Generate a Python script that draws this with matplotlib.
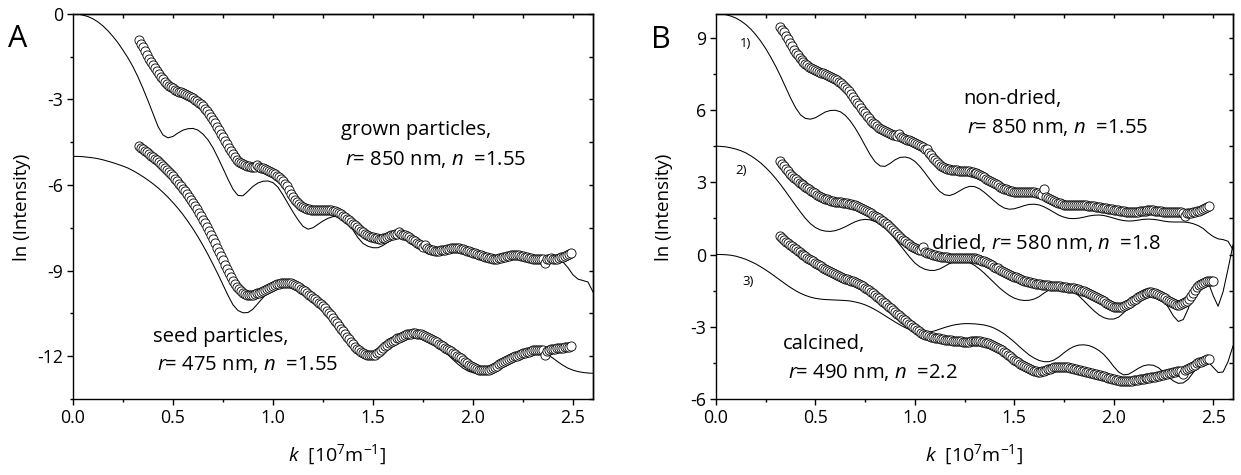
import numpy as np
import matplotlib
matplotlib.use("Agg")
import matplotlib.pyplot as plt

FONT = "Open Sans"
plt.rcParams["font.family"] = [FONT, "DejaVu Sans"]
plt.rcParams["mathtext.fontset"] = "custom"
plt.rcParams["mathtext.rm"] = FONT
plt.rcParams["mathtext.it"] = FONT + ":italic"
plt.rcParams["mathtext.bf"] = FONT + ":bold"

# ---------------- Panel A ----------------
# theory curves sampled 0 .. 2.6 (step 0.025)
theory_A_grown = [
    0.00, -0.01, -0.05, -0.10, -0.18, -0.29, -0.43, -0.60, -0.80, -1.02,
    -1.28, -1.55, -1.86, -2.22, -2.62, -3.05, -3.50, -3.95, -4.25, -4.35,
    -4.30, -4.18, -4.08, -4.03, -4.02, -4.08, -4.22, -4.42, -4.70, -5.05,
    -5.42, -5.80, -6.15, -6.37, -6.38, -6.22, -6.05, -5.93, -5.87, -5.86,
    -5.92, -6.08, -6.35, -6.65, -6.95, -7.22, -7.45, -7.55, -7.50, -7.38,
    -7.26, -7.17, -7.11, -7.10, -7.18, -7.35, -7.58, -7.85, -8.05, -8.15,
    -8.20, -8.20, -8.12, -8.00, -7.90, -7.83, -7.80, -7.85, -7.98, -8.15,
    -8.30, -8.42, -8.45, -8.42, -8.35, -8.27, -8.21, -8.20, -8.24, -8.33,
    -8.43, -8.52, -8.58, -8.60, -8.57, -8.50, -8.44, -8.40, -8.40, -8.44,
    -8.50, -8.56, -8.60, -8.60, -8.58, -8.56, -8.56, -8.60, -8.70, -8.90,
    -9.15, -9.30, -9.35, -9.40, -9.75]
theory_A_seed = [
    -5.00, -5.00, -5.01, -5.03, -5.05, -5.08, -5.12, -5.17, -5.22, -5.28,
    -5.34, -5.41, -5.50, -5.60, -5.71, -5.83, -5.96, -6.10, -6.26, -6.43,
    -6.62, -6.82, -7.04, -7.28, -7.54, -7.82, -8.12, -8.44, -8.78, -9.13,
    -9.50, -9.87, -10.20, -10.40, -10.48, -10.47, -10.35, -10.15, -9.95, -9.75,
    -9.60, -9.50, -9.45, -9.44, -9.47, -9.55, -9.66, -9.80, -9.97, -10.15,
    -10.35, -10.56, -10.78, -11.00, -11.25, -11.50, -11.72, -11.90, -12.02, -12.08,
    -12.08, -12.00, -11.85, -11.68, -11.52, -11.40, -11.30, -11.24, -11.22, -11.23,
    -11.28, -11.37, -11.48, -11.62, -11.78, -11.95, -12.12, -12.28, -12.42, -12.52,
    -12.58, -12.60, -12.58, -12.52, -12.42, -12.30, -12.18, -12.06, -11.96, -11.88,
    -11.83, -11.80, -11.79, -11.80, -11.85, -11.95, -12.07, -12.20, -12.32, -12.42,
    -12.49, -12.54, -12.57, -12.59, -12.60]

# measured data, k from 0.33 (step 0.01)
data_A_grown = [
    -0.92, -1.05, -1.17, -1.30, -1.43, -1.57, -1.70, -1.81, -1.92, -2.02,
    -2.12, -2.21, -2.30, -2.38, -2.46, -2.52, -2.57, -2.62, -2.66, -2.70,
    -2.73, -2.76, -2.79, -2.82, -2.85, -2.89, -2.93, -2.97, -3.02, -3.07,
    -3.12, -3.18, -3.25, -3.33, -3.42, -3.52, -3.62, -3.73, -3.84, -3.96,
    -4.08, -4.20, -4.33, -4.45, -4.58, -4.70, -4.82, -4.93, -5.03, -5.11,
    -5.18, -5.24, -5.28, -5.31, -5.33, -5.35, -5.37, -5.38, -5.38, -5.30,
    -5.38, -5.40, -5.42, -5.44, -5.47, -5.51, -5.55, -5.58, -5.62, -5.67,
    -5.72, -5.78, -5.85, -5.95, -6.05, -6.17, -6.30, -6.41, -6.52, -6.61,
    -6.68, -6.74, -6.78, -6.82, -6.84, -6.86, -6.87, -6.88, -6.88, -6.88,
    -6.88, -6.87, -6.87, -6.87, -6.87, -6.87, -6.88, -6.90, -6.92, -6.95,
    -6.99, -7.03, -7.08, -7.13, -7.19, -7.24, -7.30, -7.36, -7.42, -7.49,
    -7.55, -7.61, -7.66, -7.71, -7.75, -7.79, -7.82, -7.84, -7.86, -7.87,
    -7.88, -7.88, -7.87, -7.85, -7.82, -7.79, -7.76, -7.74, -7.72, -7.71,
    -7.66, -7.72, -7.74, -7.77, -7.80, -7.84, -7.88, -7.93, -7.98, -8.03,
    -8.08, -8.12, -8.16, -8.10, -8.22, -8.25, -8.27, -8.29, -8.30, -8.30,
    -8.30, -8.29, -8.28, -8.27, -8.25, -8.24, -8.22, -8.21, -8.21, -8.21,
    -8.22, -8.23, -8.25, -8.27, -8.30, -8.32, -8.35, -8.37, -8.40, -8.42,
    -8.45, -8.47, -8.50, -8.52, -8.54, -8.56, -8.57, -8.58, -8.58, -8.58,
    -8.57, -8.55, -8.54, -8.52, -8.50, -8.48, -8.47, -8.46, -8.46, -8.46,
    -8.47, -8.48, -8.50, -8.52, -8.54, -8.55, -8.57, -8.58, -8.59, -8.59,
    -8.59, -8.60, -8.61, -8.75, -8.60, -8.58, -8.57, -8.58, -8.59, -8.58,
    -8.56, -8.54, -8.52, -8.49, -8.46, -8.43, -8.39]
data_A_seed = [
    -4.64, -4.70, -4.75, -4.81, -4.86, -4.92, -4.97, -5.02, -5.08, -5.14,
    -5.20, -5.26, -5.33, -5.40, -5.47, -5.54, -5.62, -5.70, -5.78, -5.86,
    -5.95, -6.04, -6.13, -6.22, -6.32, -6.42, -6.53, -6.64, -6.75, -6.86,
    -6.98, -7.10, -7.22, -7.35, -7.48, -7.62, -7.76, -7.90, -8.05, -8.20,
    -8.35, -8.50, -8.64, -8.79, -8.94, -9.08, -9.22, -9.35, -9.47, -9.57,
    -9.66, -9.73, -9.78, -9.82, -9.84, -9.86, -9.86, -9.85, -9.83, -9.80,
    -9.77, -9.74, -9.70, -9.67, -9.63, -9.60, -9.56, -9.53, -9.50, -9.48,
    -9.46, -9.44, -9.43, -9.42, -9.42, -9.43, -9.44, -9.47, -9.50, -9.54,
    -9.58, -9.63, -9.68, -9.73, -9.79, -9.84, -9.90, -9.95, -10.00, -10.06,
    -10.12, -10.18, -10.25, -10.32, -10.40, -10.48, -10.57, -10.66, -10.75, -10.84,
    -10.94, -11.03, -11.13, -11.22, -11.32, -11.41, -11.50, -11.59, -11.67, -11.74,
    -11.80, -11.85, -11.90, -11.93, -11.95, -11.96, -11.97, -11.97, -11.95, -11.90,
    -11.85, -11.78, -11.72, -11.66, -11.60, -11.55, -11.50, -11.46, -11.42, -11.38,
    -11.35, -11.32, -11.29, -11.26, -11.24, -11.22, -11.21, -11.20, -11.20, -11.21,
    -11.22, -11.24, -11.27, -11.30, -11.33, -11.36, -11.40, -11.44, -11.48, -11.52,
    -11.56, -11.60, -11.65, -11.70, -11.74, -11.79, -11.83, -11.88, -11.93, -11.98,
    -12.03, -12.08, -12.14, -12.19, -12.25, -12.30, -12.35, -12.39, -12.43, -12.46,
    -12.48, -12.49, -12.50, -12.50, -12.49, -12.47, -12.44, -12.40, -12.37, -12.33,
    -12.29, -12.25, -12.21, -12.17, -12.14, -12.10, -12.07, -12.04, -12.01, -11.98,
    -11.95, -11.92, -11.90, -11.88, -11.86, -11.84, -11.82, -11.80, -11.79, -11.78,
    -11.78, -11.79, -11.80, -11.95, -11.81, -11.78, -11.76, -11.75, -11.74, -11.73,
    -11.72, -11.71, -11.70, -11.69, -11.68, -11.67, -11.66]

# ---------------- Panel B ----------------
theory_B_nondried = [
    10.00, 9.99, 9.96, 9.90, 9.82, 9.70, 9.55, 9.36, 9.13, 8.86,
    8.55, 8.20, 7.82, 7.40, 6.95, 6.50, 6.10, 5.80, 5.65, 5.62,
    5.68, 5.80, 5.92, 5.98, 5.99, 5.93, 5.78, 5.55, 5.25, 4.90,
    4.52, 4.15, 3.85, 3.68, 3.66, 3.78, 3.93, 4.03, 4.05, 4.00,
    3.87, 3.66, 3.40, 3.12, 2.85, 2.62, 2.48, 2.45, 2.52, 2.64,
    2.76, 2.83, 2.82, 2.73, 2.58, 2.40, 2.22, 2.05, 1.93, 1.88,
    1.90, 1.96, 2.03, 2.08, 2.09, 2.06, 1.98, 1.87, 1.75, 1.63,
    1.55, 1.50, 1.49, 1.51, 1.55, 1.60, 1.63, 1.64, 1.62, 1.57,
    1.51, 1.45, 1.41, 1.39, 1.40, 1.43, 1.46, 1.47, 1.46, 1.43,
    1.39, 1.36, 1.35, 1.35, 1.35, 1.33, 1.28, 1.20, 1.08, 0.90,
    0.75, 0.65, 0.62, 0.55, 0.20]
theory_B_dried = [
    4.50, 4.49, 4.47, 4.43, 4.38, 4.31, 4.22, 4.10, 3.96, 3.80,
    3.61, 3.40, 3.16, 2.90, 2.62, 2.33, 2.04, 1.76, 1.50, 1.28,
    1.12, 1.02, 0.97, 0.96, 0.99, 1.06, 1.15, 1.26, 1.36, 1.43,
    1.46, 1.44, 1.37, 1.26, 1.10, 0.90, 0.66, 0.40, 0.14, -0.12,
    -0.35, -0.51, -0.61, -0.66, -0.66, -0.60, -0.49, -0.37, -0.28, -0.24,
    -0.26, -0.33, -0.45, -0.60, -0.78, -0.98, -1.18, -1.38, -1.55, -1.70,
    -1.81, -1.88, -1.91, -1.90, -1.85, -1.75, -1.60, -1.47, -1.38, -1.34,
    -1.35, -1.42, -1.55, -1.72, -1.92, -2.13, -2.33, -2.50, -2.62, -2.68,
    -2.68, -2.60, -2.42, -2.17, -1.93, -1.75, -1.63, -1.58, -1.60, -1.70,
    -1.90, -2.20, -2.55, -2.78, -2.70, -2.25, -1.55, -1.12, -1.05, -1.15,
    -1.70, -2.15, -1.55, -0.60, 0.40]
theory_B_calcined = [
    0.00, 0.00, -0.01, -0.03, -0.07, -0.13, -0.20, -0.29, -0.39, -0.51,
    -0.64, -0.78, -0.93, -1.08, -1.23, -1.37, -1.50, -1.61, -1.70, -1.77,
    -1.82, -1.85, -1.87, -1.88, -1.89, -1.90, -1.91, -1.93, -1.97, -2.02,
    -2.09, -2.18, -2.29, -2.41, -2.54, -2.67, -2.80, -2.92, -3.03, -3.12,
    -3.19, -3.23, -3.24, -3.22, -3.17, -3.10, -3.03, -2.97, -2.92, -2.89,
    -2.87, -2.87, -2.88, -2.90, -2.93, -2.98, -3.06, -3.17, -3.30, -3.46,
    -3.63, -3.82, -4.00, -4.17, -4.30, -4.40, -4.45, -4.45, -4.38, -4.25,
    -4.08, -3.93, -3.82, -3.76, -3.75, -3.78, -3.86, -3.98, -4.15, -4.38,
    -4.65, -4.88, -5.00, -4.97, -4.85, -4.72, -4.62, -4.58, -4.60, -4.70,
    -4.88, -5.08, -5.25, -5.35, -5.33, -5.18, -4.90, -4.60, -4.42, -4.45,
    -4.68, -4.90, -4.88, -4.45, -3.80]

# measured data, k from 0.32 (step 0.01)
data_B_nondried = [
    9.45, 9.34, 9.22, 9.09, 8.95, 8.80, 8.65, 8.51, 8.38, 8.27,
    8.17, 8.08, 8.00, 7.92, 7.85, 7.79, 7.74, 7.70, 7.66, 7.62,
    7.59, 7.55, 7.52, 7.48, 7.45, 7.42, 7.38, 7.34, 7.29, 7.24,
    7.18, 7.11, 7.04, 6.96, 6.87, 6.77, 6.66, 6.55, 6.43, 6.31,
    6.20, 6.08, 5.97, 5.86, 5.75, 5.65, 5.56, 5.48, 5.40, 5.33,
    5.27, 5.21, 5.16, 5.11, 5.07, 5.03, 5.00, 4.97, 4.95, 4.92,
    5.02, 4.87, 4.84, 4.81, 4.77, 4.74, 4.70, 4.67, 4.63, 4.59,
    4.55, 4.50, 4.45, 4.38, 4.40, 4.21, 4.12, 4.02, 3.93, 3.84,
    3.76, 3.69, 3.64, 3.60, 3.57, 3.55, 3.53, 3.51, 3.50, 3.49,
    3.48, 3.47, 3.47, 3.46, 3.46, 3.45, 3.44, 3.42, 3.40, 3.37,
    3.34, 3.30, 3.25, 3.20, 3.15, 3.10, 3.05, 3.00, 2.96, 2.91,
    2.87, 2.82, 2.78, 2.74, 2.70, 2.67, 2.64, 2.62, 2.60, 2.59,
    2.58, 2.58, 2.58, 2.58, 2.59, 2.60, 2.60, 2.60, 2.59, 2.57,
    2.54, 2.51, 2.47, 2.70, 2.38, 2.34, 2.30, 2.26, 2.22, 2.18,
    2.15, 2.12, 2.09, 2.07, 2.05, 2.04, 2.04, 2.04, 2.04, 2.05,
    2.05, 2.05, 2.05, 2.05, 2.04, 2.03, 2.02, 2.01, 2.00, 1.99,
    1.98, 1.96, 1.95, 1.93, 1.92, 1.90, 1.89, 1.87, 1.86, 1.84,
    1.83, 1.81, 1.80, 1.79, 1.78, 1.77, 1.77, 1.77, 1.77, 1.77,
    1.78, 1.79, 1.80, 1.81, 1.82, 1.83, 1.83, 1.83, 1.83, 1.82,
    1.81, 1.80, 1.79, 1.78, 1.78, 1.77, 1.77, 1.77, 1.77, 1.76,
    1.76, 1.75, 1.75, 1.74, 1.62, 1.73, 1.72, 1.74, 1.76, 1.78,
    1.80, 1.82, 1.85, 1.88, 1.92, 1.96, 2.00]
data_B_dried = [
    3.88, 3.77, 3.66, 3.55, 3.45, 3.36, 3.27, 3.19, 3.12, 3.05,
    2.99, 2.93, 2.87, 2.81, 2.76, 2.70, 2.65, 2.59, 2.54, 2.49,
    2.44, 2.40, 2.36, 2.32, 2.29, 2.26, 2.24, 2.22, 2.20, 2.18,
    2.17, 2.16, 2.15, 2.13, 2.12, 2.10, 2.09, 2.07, 2.04, 2.01,
    1.98, 1.94, 1.90, 1.86, 1.81, 1.76, 1.71, 1.66, 1.61, 1.55,
    1.50, 1.44, 1.38, 1.31, 1.25, 1.18, 1.10, 1.02, 0.93, 0.85,
    0.78, 0.70, 0.62, 0.55, 0.48, 0.42, 0.36, 0.31, 0.27, 0.23,
    0.20, 0.17, 0.30, 0.11, 0.08, 0.05, 0.02, 0.00, -0.03, -0.05,
    -0.07, -0.09, -0.10, -0.11, -0.12, -0.13, -0.13, -0.13, -0.13, -0.13,
    -0.13, -0.13, -0.13, -0.13, -0.13, -0.14, -0.14, -0.15, -0.16, -0.18,
    -0.20, -0.23, -0.26, -0.29, -0.33, -0.37, -0.41, -0.45, -0.50, -0.54,
    -0.58, -0.63, -0.67, -0.71, -0.76, -0.80, -0.84, -0.88, -0.92, -0.95,
    -0.99, -1.02, -1.05, -1.08, -1.10, -1.13, -1.15, -1.17, -1.19, -1.21,
    -1.22, -1.24, -1.25, -1.26, -1.27, -1.28, -1.29, -1.30, -1.30, -1.31,
    -1.31, -1.32, -1.33, -1.34, -1.35, -1.37, -1.38, -1.40, -1.41, -1.43,
    -1.45, -1.48, -1.50, -1.53, -1.56, -1.60, -1.63, -1.67, -1.71, -1.76,
    -1.80, -1.85, -1.90, -1.95, -2.00, -2.05, -2.09, -2.13, -2.16, -2.18,
    -2.19, -2.19, -2.17, -2.14, -2.10, -2.05, -2.00, -1.95, -1.89, -1.84,
    -1.78, -1.73, -1.68, -1.64, -1.61, -1.59, -1.57, -1.57, -1.58, -1.60,
    -1.63, -1.67, -1.71, -1.76, -1.81, -1.87, -1.92, -1.97, -2.02, -2.06,
    -2.08, -2.08, -2.05, -2.02, -1.98, -1.92, -1.85, -1.74, -1.60, -1.47,
    -1.35, -1.28, -1.22, -1.17, -1.13, -1.11, -1.09, -1.10, -1.12]
data_B_calcined = [
    0.78, 0.70, 0.62, 0.54, 0.47, 0.40, 0.34, 0.28, 0.22, 0.16,
    0.10, 0.04, -0.02, -0.07, -0.13, -0.18, -0.24, -0.29, -0.34, -0.39,
    -0.44, -0.49, -0.54, -0.59, -0.64, -0.68, -0.73, -0.77, -0.82, -0.86,
    -0.90, -0.93, -0.97, -1.00, -1.03, -1.06, -1.08, -1.11, -1.14, -1.18,
    -1.22, -1.27, -1.32, -1.37, -1.43, -1.49, -1.55, -1.61, -1.68, -1.75,
    -1.82, -1.89, -1.96, -2.03, -2.10, -2.17, -2.24, -2.31, -2.38, -2.45,
    -2.52, -2.59, -2.66, -2.73, -2.80, -2.87, -2.94, -3.00, -3.07, -3.13,
    -3.19, -3.24, -3.29, -3.33, -3.36, -3.39, -3.41, -3.43, -3.45, -3.46,
    -3.48, -3.50, -3.51, -3.53, -3.54, -3.56, -3.57, -3.58, -3.59, -3.60,
    -3.61, -3.61, -3.62, -3.62, -3.62, -3.62, -3.61, -3.61, -3.60, -3.60,
    -3.60, -3.61, -3.62, -3.64, -3.66, -3.69, -3.72, -3.75, -3.79, -3.83,
    -3.88, -3.93, -3.98, -4.04, -4.10, -4.16, -4.23, -4.30, -4.36, -4.42,
    -4.48, -4.54, -4.59, -4.64, -4.69, -4.73, -4.77, -4.80, -4.83, -4.85,
    -4.86, -4.86, -4.85, -4.83, -4.80, -4.77, -4.74, -4.71, -4.69, -4.67,
    -4.66, -4.66, -4.66, -4.67, -4.68, -4.69, -4.71, -4.73, -4.75, -4.77,
    -4.79, -4.81, -4.83, -4.85, -4.87, -4.89, -4.91, -4.93, -4.95, -4.97,
    -4.99, -5.01, -5.04, -5.06, -5.09, -5.11, -5.14, -5.16, -5.19, -5.21,
    -5.23, -5.25, -5.26, -5.27, -5.27, -5.27, -5.26, -5.25, -5.23, -5.22,
    -5.20, -5.19, -5.17, -5.16, -5.14, -5.13, -5.11, -5.10, -5.08, -5.07,
    -5.05, -5.03, -5.01, -4.99, -4.97, -4.95, -4.93, -4.91, -4.89, -4.87,
    -4.85, -4.84, -4.83, -4.95, -4.80, -4.76, -4.72, -4.67, -4.62, -4.57,
    -4.52, -4.48, -4.45, -4.41, -4.38, -4.35, -4.33]

x_ticks = [0.0, 0.5, 1.0, 1.5, 2.0, 2.5]
x_tick_labels = ["0.0", "0.5", "1.0", "1.5", "2.0", "2.5"]
yA_ticks = [0, -3, -6, -9, -12]
yB_ticks = [9, 6, 3, 0, -3, -6]


def kgrid(start, step, n):
    return start + step * np.arange(n)


W, H = 1241, 475
fig = plt.figure(figsize=(W / 100, H / 100), dpi=100)


def fx(px):
    return px / W


def fy(py):
    return 1 - py / H


axA = fig.add_axes([fx(73), fy(399), fx(593) - fx(73), fy(13.7) - fy(399)])
axB = fig.add_axes([fx(716), fy(399), fx(1233) - fx(716), fy(13.7) - fy(399)])

line_kw = dict(color="black", lw=0.75, zorder=2)
mk_kw = dict(ls="none", marker="o", ms=6.6, mfc="white", mec="black",
             mew=0.6, zorder=3)

for th in (theory_A_grown, theory_A_seed):
    axA.plot(np.linspace(0, 2.6, len(th)), th, **line_kw)
for d in (data_A_grown, data_A_seed):
    axA.plot(kgrid(0.33, 0.01, len(d)), d, **mk_kw)

for th in (theory_B_nondried, theory_B_dried, theory_B_calcined):
    axB.plot(np.linspace(0, 2.6, len(th)), th, **line_kw)
for d in (data_B_nondried, data_B_dried, data_B_calcined):
    axB.plot(kgrid(0.32, 0.01, len(d)), d, **mk_kw)


def style(ax, ylim, yticks):
    ax.set_xlim(0, 2.6)
    ax.set_ylim(*ylim)
    ax.set_xticks(x_ticks)
    ax.set_xticklabels(x_tick_labels)
    ax.set_xticks(np.arange(0.25, 2.6, 0.5), minor=True)
    ax.set_yticks(yticks)
    ax.set_yticklabels([str(t) for t in yticks])
    ax.set_yticks([t - 1.5 for t in yticks if ylim[0] <= t - 1.5 <= ylim[1]],
                  minor=True)
    for s in ax.spines.values():
        s.set_linewidth(1.0)
    ax.tick_params(which="major", direction="out", length=4.5, width=1.0,
                   labelsize=12.8, pad=2.5, top=False, right=False)
    ax.tick_params(which="minor", direction="out", length=2.5, width=1.0,
                   top=False, right=False)
    sx = ax.secondary_xaxis("top")
    sx.set_xticks(np.arange(0.25, 2.6, 0.25))
    sx.tick_params(direction="in", length=3, width=1.0, labeltop=False)
    sx.spines["top"].set_linewidth(1.0)
    ry = [t for t in np.arange(ylim[0], ylim[1] + 0.01, 1.5)]
    sy = ax.secondary_yaxis("right")
    sy.set_yticks(ry)
    sy.tick_params(direction="in", length=3, width=1.0, labelright=False)
    sy.spines["right"].set_linewidth(1.0)


style(axA, (-13.5, 0), yA_ticks)
style(axB, (-6, 10), yB_ticks)

xlab = r"$k$  [10$^{7}$m$^{-1}$]"
fig.text(fx(337), fy(461), xlab, ha="center", va="baseline", fontsize=14)
fig.text(fx(974), fy(461), xlab, ha="center", va="baseline", fontsize=14)
fig.text(fx(22), fy(207), "ln (Intensity)", rotation=90, ha="center",
         va="center", fontsize=13.5)
fig.text(fx(664), fy(207), "ln (Intensity)", rotation=90, ha="center",
         va="center", fontsize=13.5)

fig.text(fx(8), fy(47), "A", fontsize=22, va="baseline")
fig.text(fx(651), fy(48), "B", fontsize=22, va="baseline")

ann = 14.6
fig.text(fx(341), fy(135), "grown particles,", fontsize=ann, va="baseline")
fig.text(fx(345), fy(165), r"$r$= 850 nm, $n$  =1.55", fontsize=ann,
         va="baseline")
fig.text(fx(153), fy(342), "seed particles,", fontsize=ann, va="baseline")
fig.text(fx(157), fy(370), r"$r$= 475 nm, $n$  =1.55", fontsize=ann,
         va="baseline")

fig.text(fx(963), fy(104), "non-dried,", fontsize=ann, va="baseline")
fig.text(fx(967), fy(133), r"$r$= 850 nm, $n$  =1.55", fontsize=ann,
         va="baseline")
fig.text(fx(931), fy(249), r"dried, $r$= 580 nm, $n$  =1.8", fontsize=ann,
         va="baseline")
fig.text(fx(783), fy(349), "calcined,", fontsize=ann, va="baseline")
fig.text(fx(788), fy(378), r"$r$= 490 nm, $n$  =2.2", fontsize=ann,
         va="baseline")

fig.text(fx(740), fy(47), "1)", fontsize=9.5, va="baseline")
fig.text(fx(735), fy(174), "2)", fontsize=9.5, va="baseline")
fig.text(fx(742), fy(285), "3)", fontsize=9.5, va="baseline")

fig.savefig("out.png", dpi=100)
